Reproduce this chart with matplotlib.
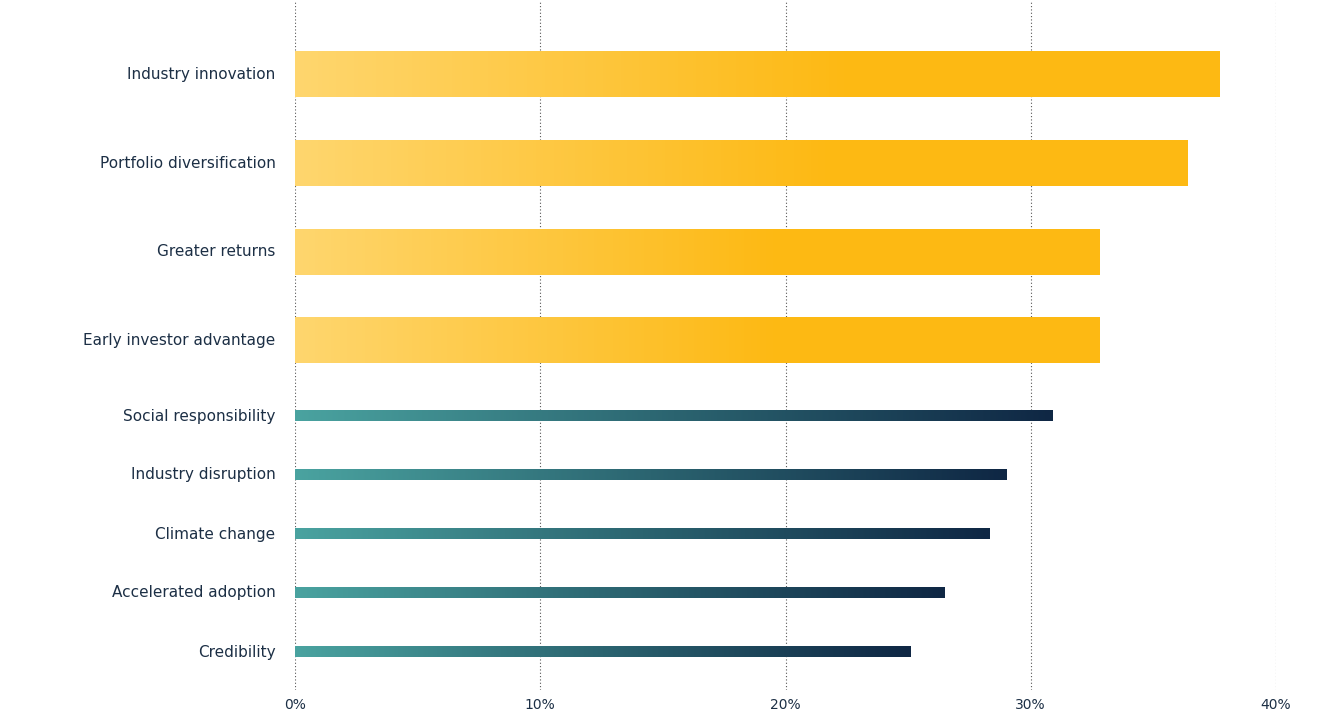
import matplotlib
matplotlib.use("Agg")
import matplotlib.pyplot as plt
import numpy as np
from matplotlib.colors import LinearSegmentedColormap

categories = ["Industry innovation", "Portfolio diversification", "Greater returns",
              "Early investor advantage", "Social responsibility", "Industry disruption",
              "Climate change", "Accelerated adoption", "Credibility"]
values = [37.7, 36.4, 32.8, 32.8, 30.9, 29.0, 28.3, 26.5, 25.1]
highlight = [True, True, True, True, False, False, False, False, False]
tick_values = [0, 10, 20, 30, 40]
tick_labels = ["0%", "10%", "20%", "30%", "40%"]

# vertical layout in pixel rows (0 at top)
centers = [74, 163, 252, 340, 416, 475, 534, 593, 652]
text_color = "#1c2f45"

yellow = LinearSegmentedColormap.from_list("y", [(0, "#ffd66e"), (0.6, "#fdb913"), (1, "#fdb913")])
teal = LinearSegmentedColormap.from_list("t", ["#4aa3a0", "#2b6470", "#0f2744"])

W, H = 1332, 712
fig = plt.figure(figsize=(W / 100, H / 100), dpi=100)
ax = fig.add_axes([295 / W, 1 - 690 / H, (1276 - 295) / W, 690 / H])
ax.set_xlim(0, 40)
ax.set_ylim(690, 0)

grad = np.linspace(0, 1, 256).reshape(1, -1)
for cat, val, hl, c in zip(categories, values, highlight, centers):
    h = 46 if hl else 11
    ax.imshow(grad, cmap=yellow if hl else teal, aspect="auto",
              extent=(0, val, c + h / 2, c - h / 2), interpolation="bicubic", zorder=2)
    ax.text(-0.8, c, cat, ha="right", va="center", fontsize=11, color=text_color,
            family="DejaVu Sans")

for t in tick_values:
    ax.axvline(t, color="#555555", lw=0.8, ls=(0, (1, 2)), zorder=1)

ax.set_xlim(0, 40)
ax.set_ylim(690, 0)
ax.set_xticks(tick_values)
ax.set_xticklabels(tick_labels, fontsize=10, color=text_color)
ax.tick_params(length=0, pad=6)
ax.set_yticks([])
for s in ax.spines.values():
    s.set_visible(False)

fig.savefig("out.png", dpi=100)
